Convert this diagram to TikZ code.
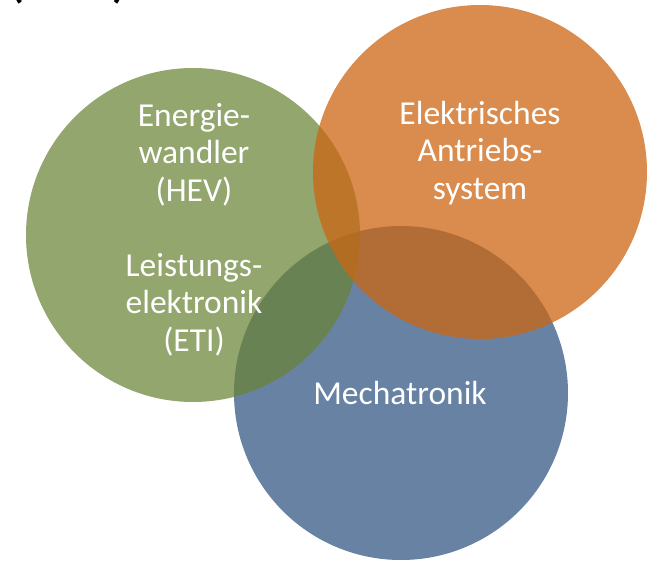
\documentclass[tikz,border=0pt]{standalone}
\usepackage{fontspec}
\setmainfont{Carlito}
\definecolor{cblue}{RGB}{104,130,164}
\definecolor{cgreen}{RGB}{106,131,54}
\definecolor{corange}{RGB}{204,102,19}
\begin{document}
\begin{tikzpicture}[x=1pt,y=-1pt,
  disc/.style={circle,minimum size=334pt,inner sep=0pt,draw=none},
  lbl/.style={text=white,align=center,font=\fontsize{33.5}{37.5}\selectfont,anchor=base}]
\useasboundingbox (0,0) rectangle (657,565);
\node[disc,fill=cblue] (blue) at (401,393) {};
\node[disc,fill=cgreen,fill opacity=0.72] (green) at (193,235) {};
\node[disc,fill=corange,fill opacity=0.75] (orange) at (480,172) {};
\node[lbl] (tg) at (194,351) {Energie-\\wandler\\(HEV)\\[37.5pt]Leistungs-\\elektronik\\(ETI)};
\node[lbl] (to) at (480,199) {Elektrisches\\Antriebs-\\system};
\node[lbl] (tb) at (400,404) {Mechatronik};
\node[anchor=base,font=\fontsize{44}{50}\selectfont\bfseries,inner sep=0pt] (top) at (68,-3) {(\hspace{88pt})};
\end{tikzpicture}
\end{document}
